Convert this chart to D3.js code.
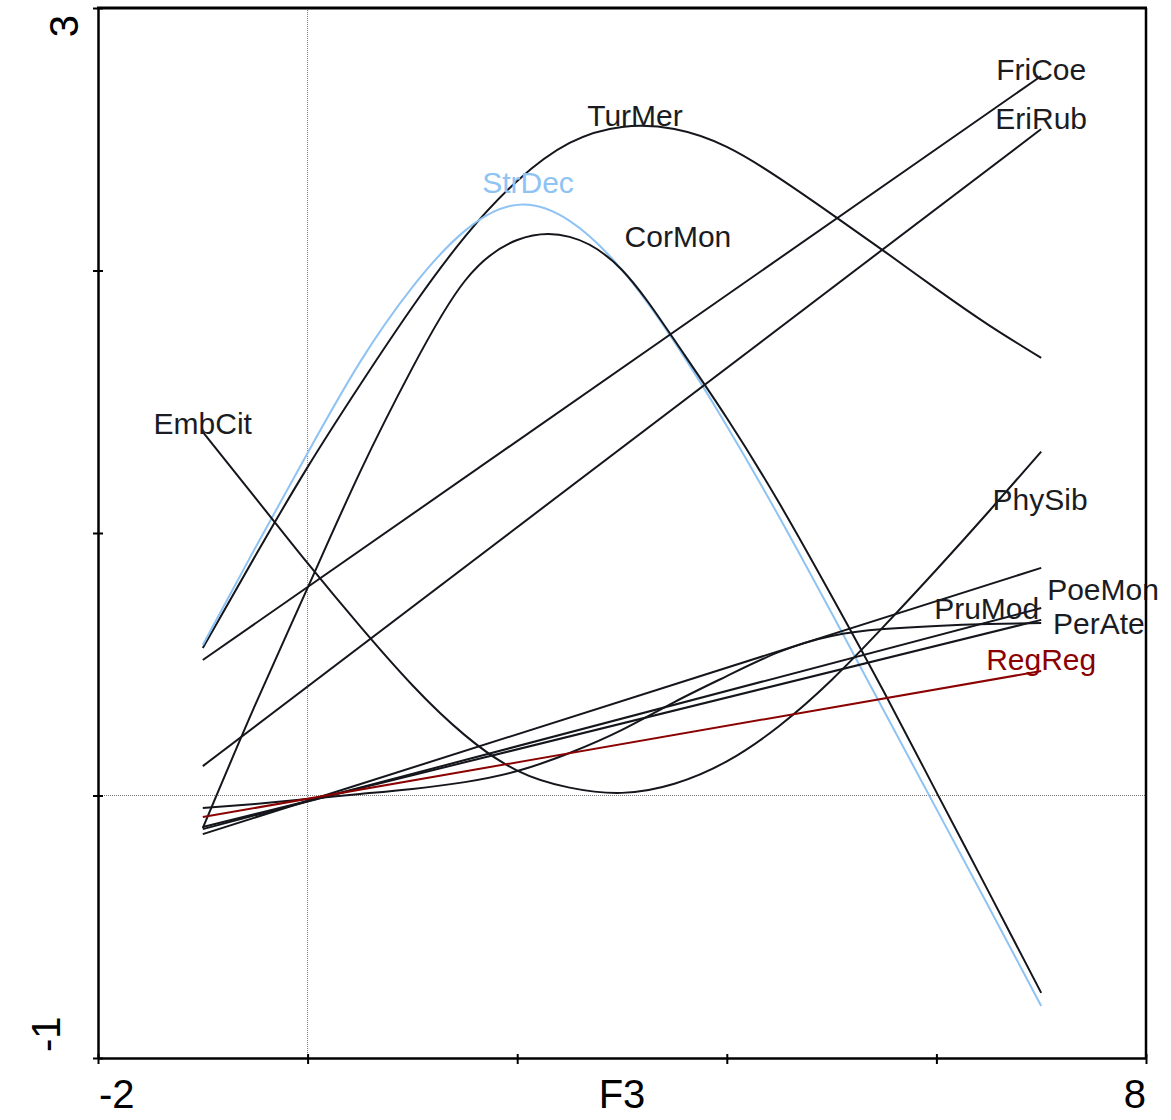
<!DOCTYPE html>
<html>
<head>
<meta charset="utf-8">
<script src="https://cdn.jsdelivr.net/npm/d3@7"></script>
<style>
  html, body { margin: 0; padding: 0; background: #fff; }
  svg { display: block; font-family: "Liberation Sans", Arial, sans-serif; }
</style>
</head>
<body>
<svg id="chart" width="1171" height="1120"></svg>
<script>
// Gradient positions at which the fitted responses are evaluated
const xGrid = [-1, -0.5, 0, 0.5, 1, 1.5, 2, 2.5, 3, 3.5, 4, 4.5, 5, 5.5, 6, 6.5, 7];
const xEnds = [-1, 7];

// Fitted responses (non-linear fits, evaluated on xGrid)
const turMer = [0.562, 0.912, 1.251, 1.564, 1.861, 2.128, 2.341, 2.486, 2.547, 2.539, 2.471, 2.352, 2.215, 2.074, 1.930, 1.792, 1.667];
const strDec = [0.573, 0.943, 1.305, 1.651, 1.937, 2.151, 2.250, 2.189, 2.002, 1.728, 1.408, 1.061, 0.695, 0.322, -0.051, -0.425, -0.802];
const corMon = [-0.124, 0.345, 0.791, 1.232, 1.629, 1.960, 2.116, 2.128, 2.002, 1.735, 1.438, 1.114, 0.760, 0.394, 0.013, -0.368, -0.752];
const embCit = [1.385, 1.135, 0.885, 0.645, 0.420, 0.230, 0.095, 0.030, 0.010, 0.045, 0.130, 0.265, 0.440, 0.645, 0.860, 1.082, 1.310];
const pruMod = [-0.048, -0.032, -0.013, 0.006, 0.025, 0.051, 0.093, 0.162, 0.250, 0.356, 0.455, 0.547, 0.608, 0.634, 0.646, 0.653, 0.657];

// Linear fits (values at both ends of xEnds)
const friCoe = [0.516, 2.741];
const eriRub = [0.112, 2.539];
const phySib = [-0.147, 0.867];
const poeMon = [-0.128, 0.714];
const perAte = [-0.120, 0.669];
const regReg = [-0.082, 0.474];

// Species names, their curves and label anchors (data units)
const speciesNames = ["TurMer", "StrDec", "CorMon", "EmbCit", "PruMod", "FriCoe", "EriRub", "PhySib", "PoeMon", "PerAte", "RegReg"];
const speciesValues = [turMer, strDec, corMon, embCit, pruMod, friCoe, eriRub, phySib, poeMon, perAte, regReg];
const labelX = [3.124, 2.103, 3.534, -1.0, 6.48, 7.0, 7.0, 6.99, 7.59, 7.55, 7.0];
const labelY = [2.550, 2.295, 2.090, 1.377, 0.672, 2.726, 2.539, 1.088, 0.745, 0.615, 0.478];
const speciesColors = ["#14161c", "#8ec3f3", "#14161c", "#14161c", "#14161c", "#14161c", "#14161c", "#14161c", "#14161c", "#14161c", "#8b0000"];

// Axis settings
const xDomain = [-2, 8];
const yDomain = [-1, 3];
const xTicks = [-2, 0, 2, 4, 6, 8];
const yTicks = [-1, 0, 1, 2, 3];
const axisTitle = "F3";

const svg = d3.select("#chart");
const plotLeft = 98, plotRight = 1146, plotTop = 8, plotBottom = 1058;

const x = d3.scaleLinear().domain(xDomain).range([plotLeft, plotRight]);
const y = d3.scaleLinear().domain(yDomain).range([plotBottom, plotTop]);

// Reference lines through the origin
svg.append("line")
  .attr("x1", x(0)).attr("x2", x(0)).attr("y1", y(3)).attr("y2", y(-1))
  .attr("stroke", "#777").attr("stroke-width", 1).attr("stroke-dasharray", "1,1");
svg.append("line")
  .attr("x1", x(-2)).attr("x2", x(8)).attr("y1", y(0)).attr("y2", y(0))
  .attr("stroke", "#777").attr("stroke-width", 1).attr("stroke-dasharray", "1,1");

// Response curves
const lineGen = d3.line().x(d => x(d[0])).y(d => y(d[1]));
speciesValues.forEach((vals, i) => {
  const xs = vals.length === xGrid.length ? xGrid : xEnds;
  const pts = vals.map((v, j) => [xs[j], v]);
  svg.append("path")
    .datum(pts)
    .attr("d", lineGen.curve(vals.length === xGrid.length ? d3.curveNatural : d3.curveLinear))
    .attr("fill", "none")
    .attr("stroke", speciesColors[i])
    .attr("stroke-width", 2);
});

// Species labels
speciesNames.forEach((name, i) => {
  svg.append("text")
    .attr("x", x(labelX[i]))
    .attr("y", y(labelY[i]))
    .attr("text-anchor", "middle")
    .attr("font-size", 30)
    .attr("fill", speciesColors[i] === "#14161c" ? "#1a1c22" : speciesColors[i])
    .text(name);
});

// Axes
const yAxis = svg.append("g")
  .attr("transform", `translate(${plotLeft},0)`)
  .call(d3.axisLeft(y).tickValues(yTicks).tickSize(5).tickSizeOuter(0).tickFormat(""));
yAxis.selectAll(".tick line").attr("x1", -5).attr("x2", 5).attr("stroke", "#000").attr("stroke-width", 2);
yAxis.select(".domain").attr("stroke", "#000").attr("stroke-width", 2.5);

const xAxis = svg.append("g")
  .attr("transform", `translate(0,${plotBottom})`)
  .call(d3.axisBottom(x).tickValues(xTicks).tickSize(5).tickSizeOuter(0).tickFormat(""));
xAxis.selectAll(".tick line").attr("y1", -4).attr("y2", 6).attr("stroke", "#000").attr("stroke-width", 2);
xAxis.select(".domain").attr("stroke", "#000").attr("stroke-width", 2.5);

// Frame: top and right edges
svg.append("line").attr("x1", plotLeft - 1).attr("x2", plotRight + 1).attr("y1", plotTop).attr("y2", plotTop)
  .attr("stroke", "#000").attr("stroke-width", 3);
svg.append("line").attr("x1", plotRight).attr("x2", plotRight).attr("y1", plotTop).attr("y2", plotBottom)
  .attr("stroke", "#000").attr("stroke-width", 2.5);

// Tick labels
const fs = 40;
svg.append("text").attr("x", x(xTicks[0]) + 1).attr("y", 1108)
  .attr("text-anchor", "start").attr("font-size", fs).text(String(xTicks[0]));
svg.append("text").attr("x", x((xDomain[0] + xDomain[1]) / 2)).attr("y", 1108)
  .attr("text-anchor", "middle").attr("font-size", fs).text(axisTitle);
svg.append("text").attr("x", x(xTicks[xTicks.length - 1])).attr("y", 1108)
  .attr("text-anchor", "end").attr("font-size", fs).text(String(xTicks[xTicks.length - 1]));

svg.append("text")
  .attr("transform", `translate(78,${y(yTicks[yTicks.length - 1]) + 7}) rotate(-90)`)
  .attr("text-anchor", "end").attr("font-size", fs).text(String(yTicks[yTicks.length - 1]));
svg.append("text")
  .attr("transform", `translate(60,${y(yTicks[0]) - 6}) rotate(-90)`)
  .attr("text-anchor", "start").attr("font-size", fs).text(String(yTicks[0]));
</script>
</body>
</html>
